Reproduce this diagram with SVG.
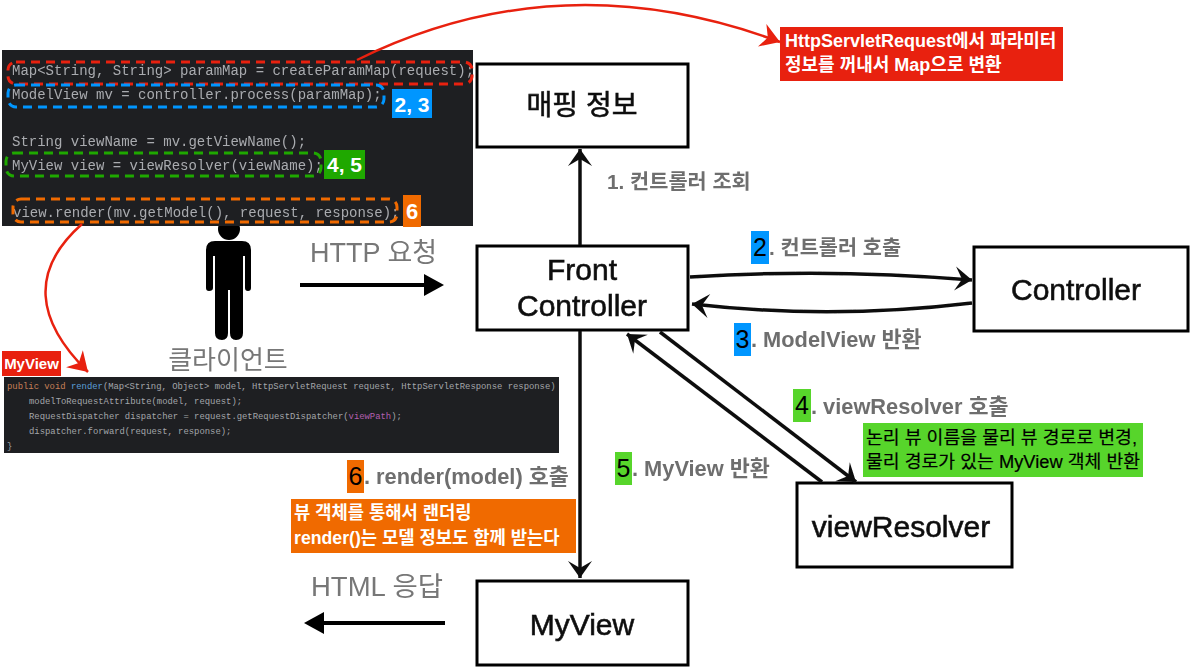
<svg xmlns="http://www.w3.org/2000/svg" width="1192" height="671" viewBox="0 0 1192 671">
<style>
text{font-family:"Liberation Sans","Noto Sans CJK KR",sans-serif}
.box{fill:#fff;stroke:#000;stroke-width:3}
.big{font-size:30px;fill:#111;text-anchor:middle;stroke:#111;stroke-width:.6}
.lbl{font-size:20.800px;font-weight:bold;fill:#6e6e6e}
.lat{font-size:21.800px}
.num{font-size:25px;fill:#000;text-anchor:middle}
.hg{font-size:27px;fill:#777}
.code{font-family:"Liberation Mono","DejaVu Sans Mono",monospace;font-size:14px;fill:#a9abaf}
.code2{font-family:"Liberation Mono","DejaVu Sans Mono",monospace;font-size:8.900px;fill:#a4a6aa}
.dash{fill:none;stroke-width:3;stroke-dasharray:9 6}
.note{font-size:18px;font-weight:bold;fill:#fff}
.note2{font-size:18.300px;fill:#000;stroke:#000;stroke-width:.2}
.conn{fill:none;stroke:#111;stroke-width:3.500;marker-end:url(#chev)}
.red{fill:none;stroke:#e8210f;stroke-width:2.500;marker-end:url(#redh)}
.soft{filter:url(#b)}
</style>
<defs>
<filter id="b" x="-5%" y="-5%" width="110%" height="110%"><feGaussianBlur stdDeviation="0.45"/></filter>
<marker id="chev" markerUnits="userSpaceOnUse" markerWidth="26" markerHeight="30" refX="20" refY="15" orient="auto"><path d="M3 3L20 15L3 27L10 15Z" fill="#111"/></marker>
<marker id="solid" markerUnits="userSpaceOnUse" markerWidth="24" markerHeight="26" refX="4" refY="13" orient="auto"><path d="M4 2L24 13L4 24Z" fill="#000"/></marker>
<marker id="redh" markerUnits="userSpaceOnUse" markerWidth="26" markerHeight="30" refX="21" refY="15" orient="auto"><path d="M2 3L21 15L2 27L8 15Z" fill="#e8210f"/></marker>
</defs>

<g id="node-mapping">
<rect class="box" x="477" y="64" width="211" height="83"/>
<text class="big soft" style="font-size:28px" x="582" y="115">매핑 정보</text>
</g>
<g id="node-front">
<rect class="box" x="477" y="246" width="211" height="84"/>
<text class="big soft" x="582" y="280">Front</text>
<text class="big soft" x="582" y="316">Controller</text>
</g>
<g id="node-controller">
<rect class="box" x="974" y="247" width="214" height="84"/>
<text class="big soft" x="1076" y="300">Controller</text>
</g>
<g id="node-viewresolver">
<rect class="box" x="797" y="483" width="215" height="84"/>
<text class="big soft" x="901" y="537">viewResolver</text>
</g>
<g id="node-myview">
<rect class="box" x="477" y="581" width="211" height="84"/>
<text class="big soft" x="582" y="635">MyView</text>
</g>

<g id="node-client">
<circle cx="229" cy="229" r="11" fill="#000"/>
<path d="M206 250Q206 241 215 241H242Q251 241 251 250V288Q251 291 248 291Q245 291 245 288V256H243V333Q243 340 236 340Q230 340 230 333V290H228V333Q228 340 222 340Q215 340 215 333V256H213V288Q213 291 209 291Q206 291 206 288Z" fill="#000"/>
<text class="hg soft" style="font-size:26px" x="228" y="369" text-anchor="middle">클라이언트</text>
</g>

<g id="node-code-main">
<rect x="2" y="50" width="471" height="176" fill="#1e1f22"/>
<text class="code soft" x="12" y="75">Map&lt;String, String&gt; paramMap = createParamMap(request);</text>
<text class="code soft" x="12" y="99">ModelView mv = controller.process(paramMap);</text>
<text class="code soft" x="12" y="146">String viewName = mv.getViewName();</text>
<text class="code soft" x="12" y="170">MyView view = viewResolver(viewName);</text>
<text class="code soft" x="13" y="217">view.render(mv.getModel(), request, response);</text>
<rect class="dash" stroke="#e8210f" x="8" y="62" width="464" height="22" rx="8"/>
<rect class="dash" stroke="#0096ff" x="8" y="85" width="376" height="22" rx="8"/>
<rect class="dash" stroke="#1fa800" x="6" y="153" width="315" height="23" rx="8"/>
<rect class="dash" stroke="#f06a00" x="13" y="199" width="384" height="23" rx="8"/>
<rect x="392" y="89" width="40" height="29" fill="#0096ff"/>
<text x="412" y="112" font-size="21" font-weight="bold" fill="#fff" text-anchor="middle">2, 3</text>
<rect x="324" y="150" width="41" height="29" fill="#1fa800"/>
<text x="344.500" y="172" font-size="21" font-weight="bold" fill="#fff" text-anchor="middle">4, 5</text>
<rect x="403" y="195" width="18" height="32" fill="#f06a00"/>
<text x="412" y="219" font-size="22" font-weight="bold" fill="#fff" text-anchor="middle">6</text>
</g>

<g id="node-code-myview">
<rect x="2" y="351" width="59" height="25" fill="#e8210f"/>
<text x="31.500" y="369" font-size="15" font-weight="bold" fill="#fff" text-anchor="middle">MyView</text>
<rect x="4" y="377" width="555" height="76" fill="#1e1f22"/>
<text class="code2" x="7" y="389"><tspan fill="#c77f57">public void </tspan><tspan fill="#5c9fd8">render</tspan>(Map&lt;String, Object&gt; model, HttpServletRequest request, HttpServletResponse response)</text>
<text class="code2" x="29" y="404">modelToRequestAttribute(model, request);</text>
<text class="code2" x="29" y="419">RequestDispatcher dispatcher = request.getRequestDispatcher(<tspan fill="#b45fb0">viewPath</tspan>);</text>
<text class="code2" x="29" y="434">dispatcher.forward(request, response);</text>
<text class="code2" x="7" y="449">}</text>
</g>

<g id="connectors">
<g class="soft">
<path class="conn" d="M580 245L580 149"/>
<path class="conn" d="M690 277Q830 268 972 280"/>
<path class="conn" d="M972 303Q830 320 692 304"/>
<path class="conn" d="M660 332L856 482"/>
<path class="conn" d="M822 482L627 334"/>
<path class="conn" d="M580 331L580 578"/>
<path d="M300 285H424" fill="none" stroke="#000" stroke-width="4" marker-end="url(#solid)"/>
<path d="M445 623H324" fill="none" stroke="#000" stroke-width="4" marker-end="url(#solid)"/>
</g>
<path class="red" d="M357 60Q560 -40 780 42"/>
<path class="red" d="M82 224C30 270 35 320 88 372"/>
</g>

<g id="labels">
<text class="hg soft" x="310" y="262">HTTP 요청</text>
<text class="hg soft" x="311" y="596" style="font-size:27.500px">HTML 응답</text>
<text class="lbl soft" x="607" y="189">1. 컨트롤러 조회</text>
<rect x="751" y="231" width="18" height="33" fill="#0096ff"/>
<text class="num" x="760" y="256">2</text>
<text class="lbl soft" x="769" y="255">. 컨트롤러 호출</text>
<rect x="734" y="323" width="17" height="33" fill="#0096ff"/>
<text class="num" x="742.500" y="348">3</text>
<text class="lbl lat soft" x="751" y="347">. ModelView 반환</text>
<rect x="793" y="389" width="18" height="33" fill="#57d52b"/>
<text class="num" x="802" y="414">4</text>
<text class="lbl lat soft" x="811" y="414">. viewResolver 호출</text>
<rect x="615" y="452" width="17" height="33" fill="#57d52b"/>
<text class="num" x="623.500" y="477">5</text>
<text class="lbl lat soft" x="632" y="476">. MyView 반환</text>
<rect x="347" y="460" width="17" height="33" fill="#f06a00"/>
<text class="num" x="355.500" y="485">6</text>
<text class="lbl lat soft" x="364" y="484">. render(model) 호출</text>
</g>

<g id="note-red">
<rect x="780" y="27" width="283" height="54" fill="#e8210f"/>
<text class="note" x="785" y="47">HttpServletRequest에서 파라미터</text>
<text class="note" x="785" y="71">정보를 꺼내서 Map으로 변환</text>
</g>
<g id="note-green">
<rect x="863" y="423" width="280" height="54" fill="#57d52b"/>
<text class="note2" x="866" y="444">논리 뷰 이름을 물리 뷰 경로로 변경,</text>
<text class="note2" x="866" y="468">물리 경로가 있는 MyView 객체 반환</text>
</g>
<g id="note-orange">
<rect x="291" y="499" width="285" height="54" fill="#f06a00"/>
<text class="note" style="font-size:17.700px" x="294" y="519">뷰 객체를 통해서 랜더링</text>
<text class="note" style="font-size:17.700px" x="294" y="544">render()는 모델 정보도 함께 받는다</text>
</g>
</svg>
